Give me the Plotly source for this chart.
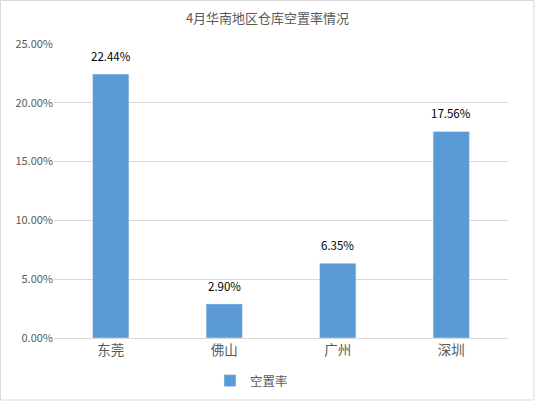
import plotly.graph_objects as go

categories = ["东莞", "佛山", "广州", "深圳"]
values = [0.2244, 0.0290, 0.0635, 0.1756]
series_name = "空置率"
title = "4月华南地区仓库空置率情况"
tick_vals = [0, 0.05, 0.10, 0.15, 0.20, 0.25]
tick_text = ["0.00%", "5.00%", "10.00%", "15.00%", "20.00%", "25.00%"]

W, H = 535, 401
L, R, T, B = 54, 27, 44, 63
pw, ph = W - L - R, H - T - B

fig = go.Figure()
fig.add_trace(go.Bar(
    x=categories, y=values, name=series_name,
    marker_color="#5b9bd5", width=0.32,
    showlegend=True, hoverinfo="skip",
))
for c, v in zip(categories, values):
    fig.add_annotation(x=c, y=v, text=f"{v*100:.2f}%", showarrow=False,
                       yanchor="bottom", yshift=8,
                       font=dict(size=11.5, color="#000000"))
fig.update_layout(
    width=W, height=H,
    margin=dict(l=L, r=R, t=T, b=B, autoexpand=False),
    paper_bgcolor="white", plot_bgcolor="white",
    font=dict(family="Noto Sans CJK SC", color="#595959", size=11),
    title=dict(text=title, x=0.5, xanchor="center", y=1 - 18 / H, yanchor="middle",
               font=dict(size=13, color="#595959")),
    showlegend=True,
    legend=dict(orientation="h", x=(210 - L) / pw, xanchor="left",
                y=-(381 - T - ph) / ph, yanchor="middle",
                font=dict(size=12.5, color="#595959"), itemwidth=30),
    yaxis=dict(range=[0, 0.25], tickvals=tick_vals, ticktext=tick_text, automargin=False,
               showgrid=True, gridcolor="#d9d9d9", gridwidth=1, zeroline=False,
               showline=False, ticks="", tickfont=dict(size=11, color="#595959")),
    xaxis=dict(showgrid=False, showline=True, linecolor="#d9d9d9", ticks="", automargin=False,
               tickfont=dict(size=13.5, color="#595959")),
    shapes=[dict(type="rect", xref="paper", yref="paper",
                 x0=-(L - 0.5) / pw, x1=1 + (R - 1) / pw,
                 y0=-(B - 1) / ph, y1=1 + (T - 0.5) / ph,
                 line=dict(color="#d9d9d9", width=1))],
)
fig.write_html("out.html", config={"displayModeBar": False},
               post_script="document.body.style.margin='0';document.body.style.overflow='hidden';")
